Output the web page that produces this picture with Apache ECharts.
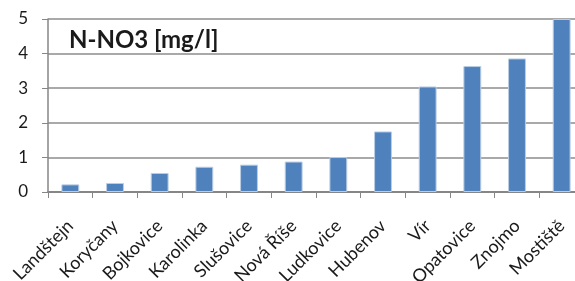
<!DOCTYPE html>
<html><head><meta charset="utf-8">
<script src="https://cdn.jsdelivr.net/npm/echarts@6/dist/echarts.min.js"></script>
<style>html,body{margin:0;padding:0;background:#fff}#c{width:575px;height:281px}</style>
</head><body><div id="c"></div>
<script>
const categories = ['Landštejn','Koryčany','Bojkovice','Karolinka','Slušovice','Nová Říše','Ludkovice','Hubenov','Vír','Opatovice','Znojmo','Mostiště'];
const values = [0.22, 0.26, 0.55, 0.73, 0.79, 0.88, 1.01, 1.75, 3.05, 3.64, 3.86, 5.0];
const yTicks = [0, 1, 2, 3, 4, 5];
const titleText = 'N-NO3 [mg/l]';
const chart = echarts.init(document.getElementById('c'), null, {renderer:'canvas'});
chart.setOption({
  animation:false,
  title:{text:titleText,left:64,top:23,textStyle:{fontFamily:'Lato',fontWeight:'bold',fontSize:24,color:'#1a1a1a'}},
  grid:{left:48,top:19,width:536,height:173,containLabel:false,outerBoundsMode:'none'},
  xAxis:{type:'category',data:categories,
    axisLine:{lineStyle:{color:'#868686',width:2}},
    axisTick:{show:true,length:6,lineStyle:{color:'#868686'}},
    axisLabel:{rotate:45,interval:0,margin:31,align:'right',verticalAlign:'middle',hideOverlap:false,fontFamily:'Lato',fontSize:18,color:'#1a1a1a'}},
  yAxis:{type:'value',min:yTicks[0],max:yTicks[yTicks.length-1],interval:1,
    axisLine:{show:true,lineStyle:{color:'#868686',width:1.5}},
    axisTick:{show:true,length:6,lineStyle:{color:'#868686'}},
    axisLabel:{margin:20,fontFamily:'Lato',fontSize:17,color:'#1a1a1a'},
    splitLine:{lineStyle:{color:'#8c8c8c',width:1.5}}},
  series:[{type:'bar',data:values,barWidth:'40%',
    itemStyle:{color:'#4F81BD',borderColor:'#b9cde5',borderWidth:1}}]
});
</script></body></html>
